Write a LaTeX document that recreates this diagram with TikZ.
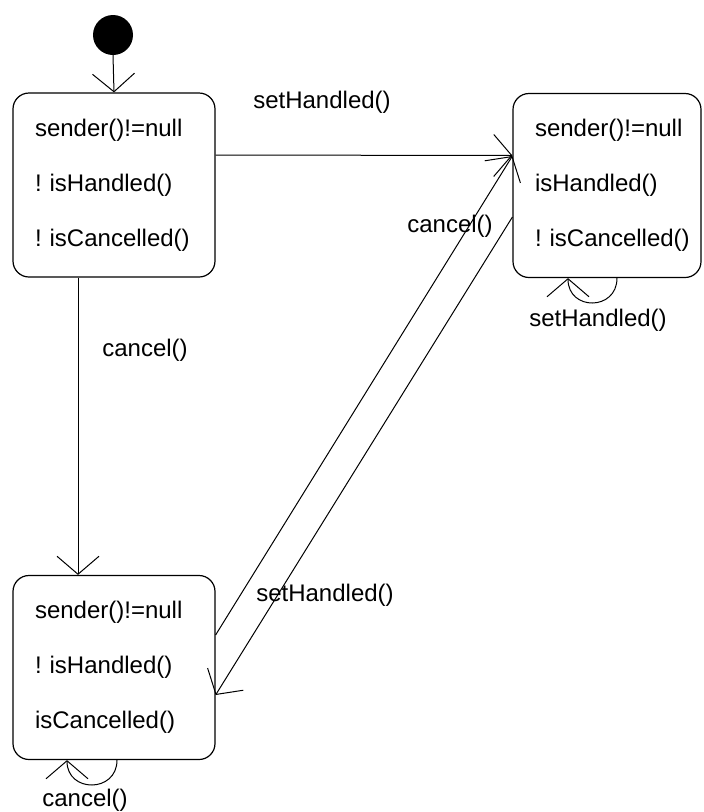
\documentclass[tikz,border=0pt]{standalone}
\usepackage{fontspec}
\setmainfont{Liberation Sans}
\usetikzlibrary{arrows.meta}

\begin{document}
\begin{tikzpicture}[x=1pt, y=-1pt,
  every node/.style={font=\fontsize{24}{55}\selectfont},
  state/.style={draw, rounded corners=16pt, line width=1.2pt, text width=158pt, minimum height=184pt, align=left, inner xsep=22pt, inner ysep=0pt, execute at begin node={\hyphenpenalty=10000\hbadness=10000}},
  trans/.style={line width=1pt, -{Straight Barb[length=18pt,width=42pt]}}]
\useasboundingbox (0,0) rectangle (704,812);
% initial pseudo state
\node[circle, fill, minimum size=40pt, inner sep=0pt] (init) at (113,35) {};
% the three states
\node[state] (fresh) at (114,185) {sender()!=null\\!~isHandled()\\!~isCancelled()};
\node[state, text width=144pt] (handled) at (607,185.5) {sender()!=null\\isHandled()\\!~isCancelled()};
\node[state] (cancelled) at (114,667.5) {sender()!=null\\!~isHandled()\\isCancelled()};
% transitions
\draw[trans] (init.south) -- (fresh.north);
\draw[trans] ([yshift=30pt]fresh.east) -- ([yshift=30pt]handled.west);
\draw[trans] ([xshift=-36pt]fresh.south) -- ([xshift=-36pt]cancelled.north);
\draw[trans] ([yshift=32.5pt]cancelled.east) -- ([yshift=29.5pt]handled.west);
\draw[trans] ([yshift=-31.5pt]handled.west) -- ([yshift=-27.5pt]cancelled.east);
% self loops
\draw[trans] ([xshift=10pt]handled.south) .. controls +(0,33) and +(0,33) .. ([xshift=-39pt]handled.south);
\draw[trans] ([xshift=3pt]cancelled.south) .. controls +(0,33) and +(0,33) .. ([xshift=-47pt]cancelled.south);
% labels
\node (setTop) at (322,102) {setHandled()};
\node (cancelLeft) at (145,350) {cancel()};
\node (cancelDiag) at (450,226) {cancel()};
\node (setLoop) at (598,320) {setHandled()};
\node (setDiag) at (325,595) {setHandled()};
\node (cancelLoop) at (85,800) {cancel()};
\end{tikzpicture}
\end{document}
